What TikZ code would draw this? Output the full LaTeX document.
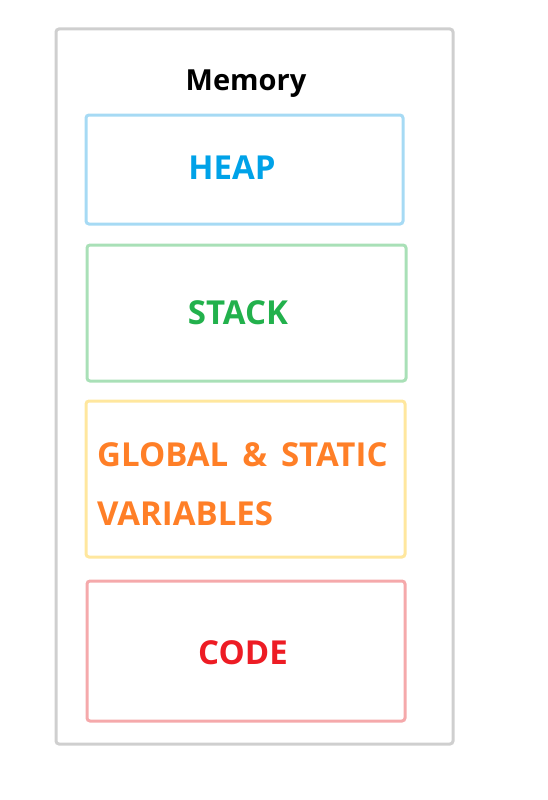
\documentclass[tikz,border=0pt]{standalone}
\usepackage{fontspec}
\setmainfont{Open Sans}[BoldFont={Open Sans Bold}]
\definecolor{outerc}{HTML}{CFCFCF}
\definecolor{heapb}{HTML}{A6DAF4}
\definecolor{heapt}{HTML}{00A2E8}
\definecolor{stackb}{HTML}{A9E0B7}
\definecolor{stackt}{HTML}{22B14C}
\definecolor{globb}{HTML}{FFE79E}
\definecolor{globt}{HTML}{FF7F27}
\definecolor{codeb}{HTML}{F5A9AB}
\definecolor{codet}{HTML}{ED1C24}
\tikzset{
  region/.style={draw, line width=3pt, rounded corners=3pt},
  lbl/.style={font=\bfseries\fontsize{33}{40}\selectfont, inner sep=0pt}
}
\begin{document}
\begin{tikzpicture}[x=1pt,y=-1pt]
\useasboundingbox (0,0) rectangle (547,800);
\draw[region, outerc] (56,29) rectangle (453,744);
\node[font=\bfseries\fontsize{29}{34}\selectfont, inner sep=0pt] (mem) at (246,84) {Memory};
\draw[region, heapb] (86,115) rectangle (403,224);
\node[lbl, text=heapt] (heap) at (232,168) {HEAP};
\draw[region, stackb] (87,245) rectangle (406,381);
\node[lbl, text=stackt] (stack) at (238,313) {STACK};
\draw[region, globb] (86,401) rectangle (405,557);
\node[lbl, text=globt, anchor=west] (glob1) at (97,455) {GLOBAL\hspace{14pt}\&\hspace{14pt}STATIC};
\node[lbl, text=globt, anchor=west] (glob2) at (97,514) {VARIABLES};
\draw[region, codeb] (87,581) rectangle (405,721);
\node[lbl, text=codet] (code) at (243,653) {CODE};
\end{tikzpicture}
\end{document}
